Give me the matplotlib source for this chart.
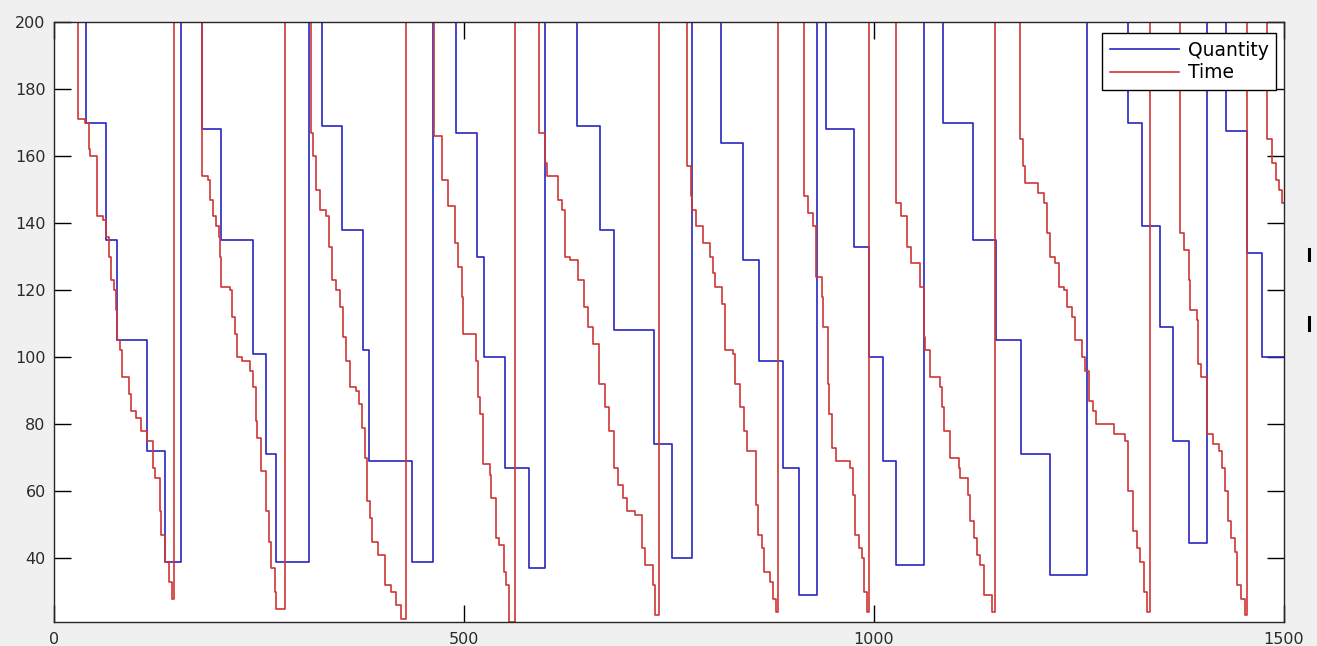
import matplotlib
matplotlib.use("Agg")
import matplotlib.pyplot as plt
from matplotlib.lines import Line2D

# ----------------------------
# Data (step breakpoints, value holds until next x)
# ----------------------------

qty_x = [0, 39.6, 63.7, 76.7, 113.3, 135.7,
         154.4, 180.0, 204.0, 242.7, 258.0, 270.5,
         311.0, 327.3, 351.7, 377.0, 384.3, 436.0,
         461.6, 490.0, 515.3, 524.2, 549.9, 579.6,
         598.7, 638.0, 665.8, 683.0, 731.7, 754.0,
         777.7, 813.0, 840.7, 860.3, 889.6, 908.7,
         930.2, 941.6, 976.2, 993.3, 1010.4, 1027.0,
         1060.4, 1084.0, 1120.7, 1149.1, 1179.3, 1215.0,
         1259.8, 1309.9, 1327.0, 1348.5, 1364.8, 1384.7,
         1406.3, 1428.7, 1455.1, 1473.4, 1500]
qty_y = [200, 170, 135, 105, 72, 39,
         200, 168, 135, 101, 71, 39,
         200, 169, 138, 102, 69, 39,
         200, 167, 130, 100, 67, 37,
         200, 169, 138, 108, 74, 40,
         200, 164, 129, 99, 67, 29,
         200, 168, 133, 100, 69, 38,
         200, 170, 135, 105, 71, 35,
         200, 170, 139, 109, 75, 44.5,
         200, 167.6, 131, 100, 100]

time_x = [0, 29.1, 38.0, 42.1, 44.1, 52.3, 59.6, 62.9, 66.5, 69.8, 72.6, 75.1, 76.7, 79.9,
          83.2, 91.3, 94.2, 99.5, 106.4, 113.3, 120.6, 122.7, 128.8, 130.8, 135.7, 140.0, 143.5,
          146.0, 180.0, 187.8, 190.6, 193.9, 198.0, 200.8, 202.0, 204.0, 215.0, 217.0, 220.3,
          223.6, 229.7, 238.6, 242.7, 246.8, 247.6, 252.9, 258.1, 262.2, 265.1, 269.1, 270.4,
          281.3, 313.1, 315.9, 319.2, 324.1, 331.4, 335.4, 339.5, 344.4, 348.5, 352.5, 356.6,
          360.7, 368.0, 372.1, 376.1, 379.0, 381.8, 385.1, 388.3, 395.3, 403.4, 411.5, 417.6, 423.7,
          429.8, 463.2, 472.6, 480.7, 488.8, 492.9, 497.0, 499.0, 514.4, 517.3, 520.1, 523.4,
          531.5, 533.5, 538.8, 542.9, 548.6, 551.8, 554.7,
          562.0, 591.4, 598.7, 601.5, 615.0, 619.0, 623.1, 629.2, 639.4, 646.3, 651.6, 656.9,
          665.0, 671.9, 677.2, 682.9, 688.2, 694.3, 698.4, 708.5, 716.7, 720.8, 730.1, 733.0,
          737.8, 771.6, 776.5, 778.5, 783.0, 791.2, 800.1, 804.1, 806.2, 814.3, 818.4, 828.6,
          830.6, 836.7, 841.6, 845.6, 856.2, 859.1, 863.1, 866.0, 873.3, 877.4, 880.6,
          883.5, 915.2, 920.1, 925.4, 929.0, 936.4, 938.4, 943.3, 945.7, 948.6, 953.9, 971.0,
          974.2, 977.1, 981.2, 985.2, 988.1, 991.3,
          993.4, 1027.1, 1032.8, 1040.1, 1045.0, 1056.4, 1060.4, 1062.5, 1067.8, 1080.0, 1082.8,
          1085.7, 1092.2, 1103.2, 1105.2, 1114.2, 1116.6, 1121.5, 1125.6, 1129.6, 1134.5, 1144.5,
          1148.0, 1178.5, 1181.7, 1184.6, 1199.6, 1207.0, 1211.0, 1215.1, 1221.2, 1225.3, 1231.4,
          1235.4, 1241.5, 1245.6, 1253.7, 1257.8, 1261.9, 1267.0, 1270.5, 1292.4, 1306.6, 1309.4,
          1316.0, 1320.9, 1324.9, 1329.0, 1333.1,
          1336.3, 1373.7, 1377.8, 1383.9, 1385.9, 1393.3, 1394.9, 1399.0, 1406.3, 1413.6, 1420.5,
          1424.6, 1428.0, 1431.6, 1434.8, 1439.7, 1443.0, 1447.8, 1451.9,
          1455.1, 1478.7, 1485.6, 1489.7, 1493.8, 1497.8, 1500]
time_y = [200, 171, 170, 162, 160, 142, 141, 136, 130, 123, 120, 114, 105, 102,
          94, 89, 84, 82, 78, 75, 67, 64, 54, 47, 39, 33, 28,
          200, 154, 153, 147, 142, 139, 136, 130, 121, 120, 112, 107,
          100, 99, 96, 91, 81, 76, 66, 54, 45, 37, 30, 25,
          200, 167, 160, 150, 144, 142, 133, 123, 120, 115, 106, 99,
          91, 90, 86, 79, 70, 57, 52, 45, 41, 32, 30, 26, 22,
          200, 166, 153, 145, 134, 127, 118, 107, 99, 88, 83, 68,
          65, 58, 46, 44, 36, 32, 21,
          200, 167, 158, 154, 147, 144, 130, 129, 123, 115, 109, 104,
          92, 85, 78, 67, 62, 58, 54, 53, 43, 38, 32, 23,
          200, 157, 148, 144, 139, 134, 130, 125, 121, 116, 102, 101,
          92, 85, 78, 72, 56, 47, 43, 36, 33, 28, 24,
          200, 148, 143, 139, 124, 118, 109, 92, 83, 73, 69, 67,
          59, 47, 43, 40, 30, 24,
          200, 146, 142, 133, 128, 121, 106, 102, 94, 91, 85,
          78, 70, 67, 64, 59, 51, 46, 41, 38, 29, 24,
          200, 165, 157, 152, 149, 146, 137, 130, 128, 121, 120,
          115, 112, 105, 100, 96, 87, 84, 80, 77, 75, 60,
          48, 43, 39, 30, 24,
          200, 137, 132, 123, 114, 111, 98, 94, 77, 74, 72,
          67, 60, 51, 46, 42, 32, 28, 23,
          200, 165, 158, 153, 150, 146, 146]

x_ticks = [0, 500, 1000, 1500]
y_ticks = [40, 60, 80, 100, 120, 140, 160, 180, 200]

# ----------------------------
# Plotting
# ----------------------------

plt.rcParams['font.family'] = ['DejaVu Sans']

W, H = 1317, 646
fig = plt.figure(figsize=(W / 100, H / 100), dpi=100, facecolor='#f0f0f0')
ax = fig.add_axes([54 / W, 24 / H, 1230 / W, 600 / H], facecolor='white')

ax.step(qty_x, qty_y, where='post', color='#2626c0', lw=1.2, label='Quantity')
ax.step(time_x, time_y, where='post', color='#d03636', lw=1.2, label='Time')

ax.set_xlim(0, 1500)
ax.set_ylim(21, 200)
ax.set_xticks(x_ticks)
ax.set_yticks(y_ticks)

ax.tick_params(direction='in', length=12, width=1, top=True, right=True,
               labelsize=11.5, labelcolor='#2a2a2a')
ax.tick_params(axis='x', pad=7)
ax.tick_params(axis='y', pad=6)
for sp in ax.spines.values():
    sp.set_linewidth(1)
    sp.set_color('#262626')

leg = ax.legend(loc='upper right', bbox_to_anchor=(1222 / 1230, 589 / 600), borderaxespad=0,
                fancybox=False, framealpha=1, edgecolor='black', fontsize=13.5,
                handlelength=3.7, handletextpad=0.45, borderpad=0.4, labelspacing=0.2)
leg.get_frame().set_linewidth(1)

# two small marks to the right of the axes
for y0, y1 in [(249, 260), (317, 330)]:
    fig.add_artist(Line2D([1309 / W, 1309 / W], [1 - y0 / H, 1 - y1 / H],
                          transform=fig.transFigure, color='black', lw=2.2))

fig.savefig('out.png', dpi=100, facecolor=fig.get_facecolor())
